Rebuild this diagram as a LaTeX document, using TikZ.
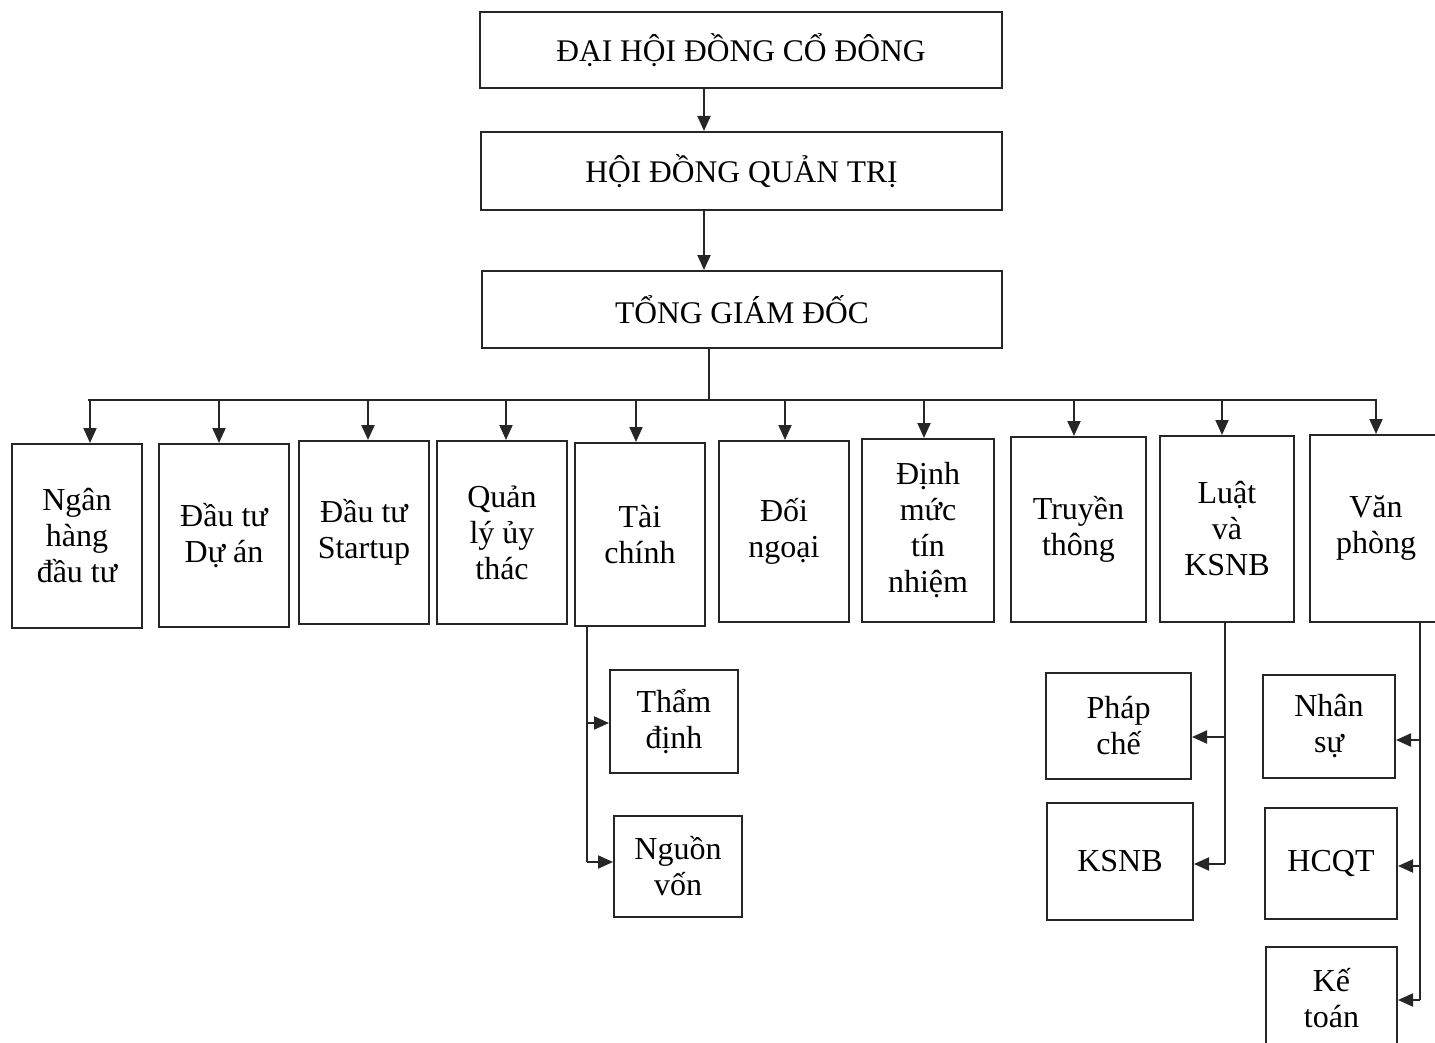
\documentclass[tikz,border=0pt]{standalone}
\usepackage{fontspec}
\setmainfont{Liberation Serif}
\usetikzlibrary{arrows.meta}
\begin{document}
\begin{tikzpicture}[x=1pt,y=-1pt,
  box/.style={draw=black!85, line width=2pt, align=center, inner sep=0pt,
    font=\fontsize{32}{36}\selectfont},
  topbox/.style={box, font=\fontsize{31.5}{36}\selectfont},
  link/.style={draw=black!85, line width=2pt},
  arr/.style={link, -{Triangle[length=15pt,width=13pt]}}]
\useasboundingbox[fill=white] (0,0) rectangle (1435,1043);
\clip (0,0) rectangle (1435,1043);
% top chain
\node[topbox, minimum width=522pt, minimum height=76pt] (dh) at (741,50) {ĐẠI HỘI ĐỒNG CỔ ĐÔNG};
\node[topbox, minimum width=521pt, minimum height=78pt] (hd) at (741.5,171) {HỘI ĐỒNG QUẢN TRỊ};
\node[topbox, minimum width=520pt, minimum height=77pt] (tg) at (742,309.5) {TỔNG GIÁM ĐỐC};
\coordinate (ax) at (704,0);
\draw[arr] (dh.south -| ax) -- (hd.north -| ax);
\draw[arr] (hd.south -| ax) -- (tg.north -| ax);
% departments
\node[box, minimum width=130pt, minimum height=184pt] (b1) at (77,536) {Ngân\\hàng\\đầu tư};
\node[box, minimum width=130pt, minimum height=183pt] (b2) at (224,535.5) {Đầu tư\\Dự án};
\node[box, minimum width=130pt, minimum height=183pt] (b3) at (364,532.5) {Đầu tư\\Startup};
\node[box, minimum width=130pt, minimum height=183pt] (b4) at (502,532.5) {Quản\\lý ủy\\thác};
\node[box, minimum width=130pt, minimum height=183pt] (b5) at (640,534.5) {Tài\\chính};
\node[box, minimum width=130pt, minimum height=181pt] (b6) at (784,531.5) {Đối\\ngoại};
\node[box, minimum width=132pt, minimum height=183pt] (b7) at (928,530.5) {Định\\mức\\tín\\nhiệm};
\node[box, minimum width=135pt, minimum height=185pt] (b8) at (1078.5,529.5) {Truyền\\thông};
\node[box, minimum width=134pt, minimum height=186pt] (b9) at (1227,529) {Luật\\và\\KSNB};
\node[box, minimum width=135pt, minimum height=187pt, text width=131pt, align=center] (b10) at (1377.5,528.5) {\hspace*{-3pt}Văn\\\hspace*{-3pt}phòng};
% bus
\coordinate (busL) at (88,400);
\coordinate (busR) at (1377,400);
\coordinate (tgx) at (709,400);
\draw[link] (tg.south -| tgx) -- (tgx);
\draw[link] (busL) -- (busR);
\foreach \n/\x in {b1/90,b2/219,b3/368,b4/506,b5/636,b6/785,b7/924,b8/1074,b9/1222,b10/1376}{
  \coordinate (a\n) at (\x,400);
  \draw[arr] (a\n) -- (\n.north -| a\n);
}
% sub units
\node[box, minimum width=128pt, minimum height=103pt] (td) at (674,721.5) {Thẩm\\định};
\node[box, minimum width=128pt, minimum height=101pt] (nv) at (678,866.5) {Nguồn\\vốn};
\node[box, minimum width=145pt, minimum height=106pt] (pc) at (1118.5,726) {Pháp\\chế};
\node[box, minimum width=146pt, minimum height=117pt] (ks) at (1120,861.5) {KSNB};
\node[box, minimum width=132pt, minimum height=103pt] (ns) at (1329,726.5) {Nhân\\sự};
\node[box, minimum width=132pt, minimum height=111pt] (hc) at (1331,863.5) {HCQT};
\node[box, minimum width=131pt, minimum height=103pt] (kt) at (1331.5,998.5) {Kế\\toán};
% Tài chính branch
\coordinate (tA) at (587,723);
\coordinate (tB) at (587,862);
\draw[link] (b5.south -| tB) -- (tB);
\draw[arr] (tA) -- (td.west |- tA);
\draw[arr] (tB) -- (nv.west |- tB);
% Luật branch
\coordinate (lA) at (1225,737);
\coordinate (lB) at (1225,864);
\draw[link] (b9.south -| lB) -- (lB);
\draw[arr] (lA) -- (pc.east |- lA);
\draw[arr] (lB) -- (ks.east |- lB);
% Văn phòng branch
\coordinate (vA) at (1420,740);
\coordinate (vB) at (1420,866);
\coordinate (vC) at (1420,1000);
\draw[link] (b10.south -| vC) -- (vC);
\draw[arr] (vA) -- (ns.east |- vA);
\draw[arr] (vB) -- (hc.east |- vB);
\draw[arr] (vC) -- (kt.east |- vC);
\end{tikzpicture}
\end{document}
